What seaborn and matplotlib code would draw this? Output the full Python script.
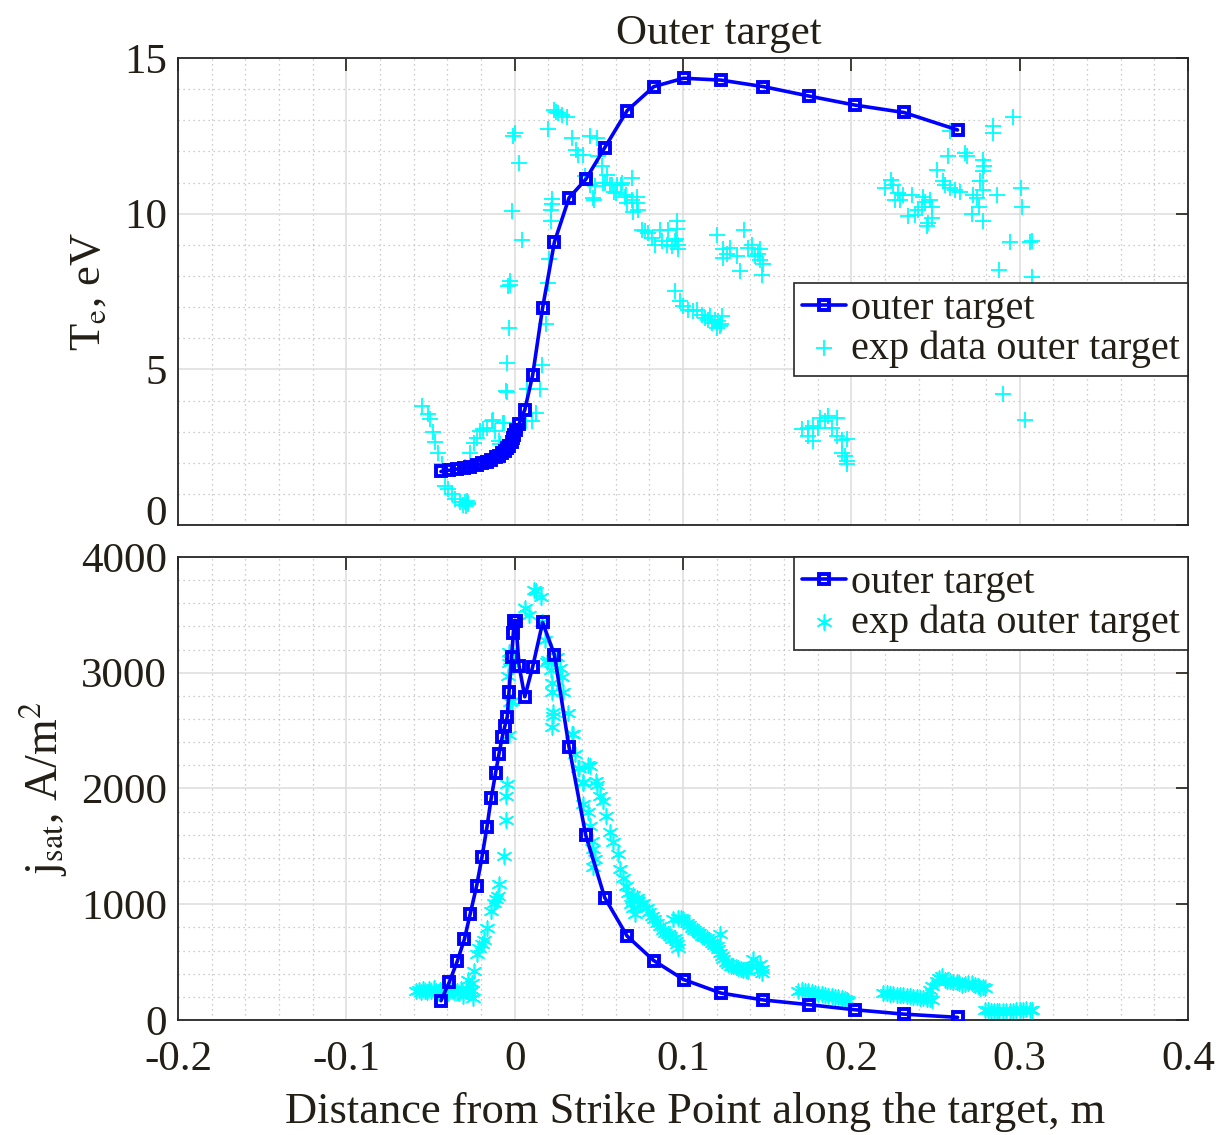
import numpy as np
import pandas as pd
import matplotlib
matplotlib.use("Agg")
import matplotlib.pyplot as plt
import seaborn as sns
from matplotlib.ticker import MultipleLocator

# ---------------- data ----------------
x_model = [-0.0438, -0.0388, -0.0341, -0.0299, -0.0264, -0.0226, -0.0194, -0.0165,
           -0.0139, -0.0113, -0.0093, -0.0074, -0.0058, -0.0044, -0.0034, -0.0018,
           -0.0008, -0.0002, 0.0006, 0.0026, 0.0060, 0.0107, 0.0166, 0.0236,
           0.0323, 0.0422, 0.0535, 0.0668, 0.0826, 0.1003, 0.1225, 0.1478,
           0.1746, 0.2019, 0.2312, 0.2631]
te_model = [1.72, 1.76, 1.80, 1.84, 1.88, 1.93, 1.98, 2.04,
            2.10, 2.17, 2.23, 2.30, 2.38, 2.46, 2.55, 2.68,
            2.80, 2.90, 3.05, 3.25, 3.70, 4.82, 6.98, 9.09,
            10.51, 11.10, 12.12, 13.31, 14.08, 14.35, 14.29, 14.08,
            13.78, 13.49, 13.25, 12.69]
j_model = [167, 329, 508, 696, 918, 1159, 1410, 1664,
           1922, 2136, 2301, 2445, 2540, 2618, 2830, 3139,
           3347, 3451, 3451, 3061, 2792, 3052, 3434, 3156,
           2358, 1598, 1057, 725, 514, 350, 233, 173,
           133, 89, 51, 23]

te_exp_x = [-0.0553, -0.0513, -0.0503, -0.0487, -0.0473, -0.0454, -0.0434, -0.0414, -0.0394, -0.0374,
            -0.0355, -0.0325, -0.0305, -0.0295, -0.0285, -0.0276, -0.0290, -0.0280,
            -0.0295, -0.0266, -0.0242, -0.0226, -0.0206, -0.0187, -0.0166, -0.0137, -0.0117, -0.0091,
            -0.0087, -0.0064, -0.0127, -0.0068,
            -0.0048, -0.0052, -0.0044, -0.0032, -0.0028, -0.0038, -0.0030, -0.0014, 0.0027, 0.0002,
            -0.0008, 0.0045,
            0.0071, 0.0067, 0.0101, 0.0127, 0.0150, 0.0160, 0.0186, 0.0200, 0.0206, 0.0216, 0.0216,
            0.0220, 0.0220, 0.0200,
            0.0233, 0.0259, 0.0279, 0.0309, 0.0245, 0.0339, 0.0447, 0.0487, 0.0364, 0.0378, 0.0404,
            0.0497, 0.0517, 0.0418, 0.0447, 0.0477, 0.0467, 0.0547, 0.0536, 0.0566, 0.0606, 0.0602,
            0.0636, 0.0661, 0.0665, 0.0471, 0.0526, 0.0576, 0.0590, 0.0630, 0.0655, 0.0699, 0.0695,
            0.0725, 0.0725, 0.0705, 0.0734,
            0.0754, 0.0774, 0.0794, 0.0814, 0.0834, 0.0863, 0.0913, 0.0873, 0.0903, 0.0933, 0.0952,
            0.0966, 0.0966, 0.0972, 0.0972, 0.0960,
            0.1200, 0.1362, 0.1239, 0.1279, 0.1259, 0.1236, 0.1319, 0.1338, 0.1388, 0.1408, 0.1428,
            0.1457, 0.1457, 0.1477, 0.1467, 0.1447,
            0.0952, 0.0982, 0.1002, 0.1031, 0.1061, 0.1081, 0.1111, 0.1131, 0.1150, 0.1170, 0.1190,
            0.1210, 0.1220, 0.1200, 0.1230, 0.1160, 0.1225,
            0.1705, 0.1744, 0.1774, 0.1804, 0.1744, 0.1774, 0.1814, 0.1843, 0.1863, 0.1913, 0.1883,
            0.1913, 0.1943, 0.1972, 0.1943, 0.1962, 0.1972, 0.1972,
            0.2586, 0.2840, 0.2843, 0.2962, 0.2576, 0.2675, 0.2689, 0.2784, 0.2788, 0.2780, 0.2511,
            0.2546, 0.2556, 0.2234, 0.2200, 0.2249, 0.2279, 0.2309, 0.2358, 0.2259, 0.2289, 0.2427,
            0.2437, 0.2467, 0.2477, 0.2418, 0.2398, 0.2378, 0.2338, 0.2477, 0.2457, 0.2447, 0.2586,
            0.2616, 0.2646, 0.2725, 0.2745, 0.2764, 0.2784, 0.2863, 0.2760, 0.2715, 0.2780, 0.3006,
            0.3016, 0.2942, 0.3071, 0.3059, 0.2879, 0.3071, 0.2899, 0.3031]
te_exp_y = [3.82, 3.56, 3.42, 2.99, 2.67, 2.31, 1.96, 1.26, 1.15, 0.99,
            0.83, 0.73, 0.66, 0.73, 0.78, 0.71, 0.62, 0.68,
            1.85, 2.33, 2.65, 2.81, 3.02, 3.08, 3.13, 3.34, 3.02, 2.70,
            2.60, 3.29, 3.36, 3.29,
            4.27, 4.30, 5.21, 6.34, 7.83, 7.67, 7.70, 10.10, 11.62, 12.59,
            12.48, 9.17,
            4.36, 3.34, 3.34, 3.61, 4.36, 5.14, 6.46, 7.78, 8.53, 9.78, 10.13,
            10.30, 10.48, 12.72,
            13.33, 13.23, 13.17, 13.12, 13.28, 12.43, 12.51, 12.43, 12.05, 11.89, 11.89,
            11.84, 11.52, 11.20, 10.93, 10.88, 10.50, 11.25, 10.98, 10.93, 10.93, 10.66,
            10.98, 10.61, 10.34, 10.45, 10.98, 10.93, 10.71, 10.93, 10.55, 11.14, 10.45,
            10.55, 10.34, 10.07, 10.13,
            9.49, 9.43, 9.38, 9.22, 9.01, 9.49, 9.49, 9.11, 9.01, 8.95, 9.11,
            9.75, 9.50, 9.01, 8.85, 9.20,
            9.33, 9.49, 8.85, 8.90, 8.69, 8.58, 8.63, 8.15, 8.90, 9.01, 8.63,
            8.85, 8.50, 8.37, 8.04, 8.70,
            7.51, 7.19, 7.03, 6.92, 6.87, 6.92, 6.76, 6.66, 6.60, 6.50, 6.60,
            6.55, 6.39, 6.34, 6.71, 6.71, 6.45,
            3.08, 3.13, 3.18, 3.13, 2.86, 2.70, 3.43, 3.34, 3.50, 3.43, 3.11,
            2.86, 2.72, 2.76, 2.33, 2.22, 2.06, 1.96,
            12.64, 12.80, 12.59, 13.12, 11.84, 11.95, 11.84, 11.73, 11.54, 11.36, 11.41,
            11.04, 10.93, 11.09, 10.82, 10.93, 10.66, 10.61, 10.61, 10.45, 10.45, 10.55,
            10.39, 10.45, 10.23, 10.23, 10.13, 9.97, 9.94, 9.86, 9.70, 9.59, 10.82,
            10.77, 10.71, 10.61, 10.50, 11.04, 10.77, 10.61, 10.21, 10.00, 9.75, 10.82,
            10.21, 9.08, 9.11, 9.08, 8.18, 7.97, 4.20, 3.38]

j_exp_x = [-0.0585, -0.0570, -0.0558, -0.0545, -0.0532, -0.0520, -0.0508, -0.0495, -0.0482, -0.0470,
           -0.0458, -0.0445, -0.0432, -0.0420, -0.0408, -0.0395, -0.0382, -0.0370, -0.0358, -0.0345,
           -0.0332, -0.0320, -0.0305, -0.0292, -0.0280, -0.0268, -0.0256, -0.0246,
           -0.0276, -0.0256, -0.0240, -0.0226, -0.0210, -0.0196, -0.0182, -0.0163, -0.0143, -0.0123,
           -0.0111, -0.0097, -0.0091, -0.0064, -0.0052, -0.0052, -0.0048, -0.0034, -0.0028, -0.0014,
           -0.0038, -0.0032, -0.0028, -0.0032,
           0.0061, 0.0087, 0.0115, 0.0127, 0.0154, 0.0164, 0.0180, 0.0200, 0.0194, 0.0250, 0.0214,
           0.0224, 0.0224, 0.0230, 0.0230, 0.0224, 0.0269, 0.0279, 0.0289, 0.0319, 0.0339, 0.0345,
           0.0358, 0.0378, 0.0384, 0.0404, 0.0437, 0.0447, 0.0404, 0.0483, 0.0491, 0.0507, 0.0523,
           0.0408, 0.0437, 0.0542, 0.0447, 0.0566, 0.0457, 0.0586, 0.0467, 0.0477, 0.0616, 0.0467,
           0.0626, 0.0645, 0.0661, 0.0675, 0.0695, 0.0725, 0.0705, 0.0715, 0.0744, 0.0764, 0.0784,
           0.0814, 0.0844, 0.0863, 0.0893, 0.0923, 0.0952, 0.0962, 0.0972, 0.0942, 0.0972, 0.1002,
           0.1022, 0.1052, 0.1081, 0.1111, 0.1141, 0.1170, 0.1200, 0.1220, 0.1220, 0.1240, 0.1269,
           0.1299, 0.1328, 0.1358, 0.1388, 0.1418, 0.1438, 0.1467, 0.1457,
           0.0690, 0.0700, 0.0735, 0.0800, 0.0830, 0.0880, 0.0910, 0.0935, 0.0957, 0.0987, 0.1037,
           0.1067, 0.1096, 0.1126, 0.1155, 0.1185, 0.1210, 0.1230, 0.1255, 0.1285, 0.1313, 0.1343,
           0.1373, 0.1403, 0.1450, 0.1472,
           0.1686, 0.1705, 0.1725, 0.1745, 0.1764, 0.1784, 0.1804, 0.1823, 0.1843, 0.1863, 0.1883,
           0.1903, 0.1923, 0.1943, 0.1962, 0.1975, 0.1982,
           0.2190, 0.2210, 0.2230, 0.2250, 0.2269, 0.2289, 0.2309, 0.2328, 0.2348, 0.2368, 0.2388,
           0.2408, 0.2427, 0.2447, 0.2467, 0.2477, 0.2467, 0.2480,
           0.2507, 0.2520, 0.2537, 0.2555, 0.2570, 0.2586, 0.2605, 0.2625, 0.2640, 0.2656, 0.2675,
           0.2695, 0.2715, 0.2735, 0.2750, 0.2764, 0.2780, 0.2794,
           0.2794, 0.2810, 0.2830, 0.2850, 0.2863, 0.2880, 0.2900, 0.2920, 0.2942, 0.2960, 0.2980,
           0.3000, 0.3021, 0.3040, 0.3060, 0.3071]
j_exp_y = [250, 262, 245, 270, 255, 240, 265, 250, 275, 248,
           238, 260, 252, 270, 245, 232, 258, 262, 240, 255,
           230, 268, 205, 250, 272, 240, 260, 190,
           349, 320, 421, 566, 624, 653, 688, 797, 942, 1014,
           1043, 1072, 1179, 1419, 1729, 1931, 2035, 2460, 2749, 2757,
           2971, 3081, 3110, 3182,
           3558, 3500, 3717, 3703, 3654, 3442, 3284, 3110, 3096, 3139, 3023,
           2908, 2835, 2662, 2630, 2532, 3038, 2965, 2835, 2648, 2468, 2474,
           2301, 2180, 2180, 2055, 2200, 2191, 2046, 2063, 2026, 1939, 1890,
           1867, 1794, 1766, 1679, 1621, 1549, 1534, 1477, 1390, 1434, 1318,
           1304, 1231, 1159, 1101, 1043, 1057, 971, 913, 1000, 1014, 971,
           899, 840, 812, 754, 725, 710, 653, 624, 870, 884, 870,
           840, 797, 768, 725, 710, 667, 638, 740, 580, 523, 480,
           465, 450, 436, 421, 523, 465, 407, 480,
           1000, 1080, 1030, 930, 870, 780, 740, 700, 680, 880, 820,
           780, 750, 720, 690, 650, 610, 550, 500, 470, 455, 440,
           430, 470, 430, 440,
           248, 262, 255, 250, 240, 236, 228, 222, 215, 210, 205,
           200, 198, 190, 185, 175, 161,
           233, 230, 226, 222, 219, 215, 212, 208, 205, 200, 197,
           193, 190, 185, 178, 176, 263, 290,
           335, 360, 378, 350, 340, 335, 330, 325, 318, 306, 315,
           318, 320, 300, 290, 277, 282, 277,
           89, 85, 80, 78, 75, 80, 78, 76, 75, 82, 85,
           87, 89, 92, 90, 89]

x_ticks = [-0.2, -0.1, 0, 0.1, 0.2, 0.3, 0.4]
x_tick_labels = ["-0.2", "-0.1", "0", "0.1", "0.2", "0.3", "0.4"]
te_ticks = [0, 5, 10, 15]
te_tick_labels = ["0", "5", "10", "15"]
j_ticks = [0, 1000, 2000, 3000, 4000]
j_tick_labels = ["0", "1000", "2000", "3000", "4000"]

# ---------------- style ----------------
sns.set_theme(style="white")
TXT = "#231f16"
plt.rcParams["font.family"] = ["Liberation Serif", "DejaVu Serif"]
plt.rcParams["mathtext.fontset"] = "stix"
plt.rcParams["axes.unicode_minus"] = False
plt.rcParams["text.color"] = TXT
plt.rcParams["axes.labelcolor"] = TXT
plt.rcParams["xtick.color"] = TXT
plt.rcParams["ytick.color"] = TXT

BLUE = "#0000ff"
CYAN = "#00ffff"
FS_TICK = 31
FS_LAB = 32
FS_LEG = 29

fig = plt.figure(figsize=(12.26, 11.35), dpi=100)
ax1 = fig.add_axes([0.1452, 0.5374, 0.8238, 0.4115])
ax2 = fig.add_axes([0.1452, 0.1013, 0.8238, 0.408])

df_model = pd.DataFrame({"x": x_model, "te": te_model, "j": j_model})
df_te = pd.DataFrame({"x": te_exp_x, "te": te_exp_y})
df_j = pd.DataFrame({"x": j_exp_x, "j": j_exp_y})

line_kw = dict(color=BLUE, linewidth=2.6, marker="s", markersize=7,
               markerfacecolor="none", markeredgecolor=BLUE, markeredgewidth=2.8,
               estimator=None, sort=False)

sns.lineplot(data=df_model, x="x", y="te", ax=ax1, label="outer target", zorder=3, **line_kw)
sns.scatterplot(data=df_te, x="x", y="te", ax=ax1, marker="+", color=CYAN, s=120,
                linewidth=1.3, label="exp data outer target", zorder=2)

sns.lineplot(data=df_model, x="x", y="j", ax=ax2, label="outer target", zorder=3, **line_kw)
sns.scatterplot(data=df_j, x="x", y="j", ax=ax2, marker=(6, 2, 0), color=CYAN, s=110,
                linewidth=1.2, label="exp data outer target", zorder=2)

for ax, yt, ytl, ymin, ymax, ystep in [(ax1, te_ticks, te_tick_labels, 0, 15, 1),
                                        (ax2, j_ticks, j_tick_labels, 0, 4000, 200)]:
    ax.set_xlim(-0.2, 0.4)
    ax.set_ylim(ymin, ymax)
    ax.set_xticks(x_ticks)
    ax.set_yticks(yt)
    ax.set_yticklabels(ytl)
    ax.xaxis.set_minor_locator(MultipleLocator(0.02))
    ax.yaxis.set_minor_locator(MultipleLocator(ystep))
    ax.grid(which="major", color="#dddddd", linewidth=1.1, linestyle="-")
    ax.grid(which="minor", color="#bdbdbd", linewidth=0.9, linestyle=(0, (1, 3)))
    ax.set_axisbelow(True)
    ax.tick_params(which="major", direction="in", length=9, width=1.2,
                   top=True, right=True, labelsize=FS_TICK)
    ax.tick_params(axis="y", which="major", pad=8)
    ax.tick_params(axis="x", which="major", pad=15)
    ax.tick_params(which="minor", length=0)
    for s in ax.spines.values():
        s.set_color("#262626")
        s.set_linewidth(1.3)
    ax.set_xlabel("")
    ax.set_ylabel("")

ax1.set_xticklabels([])
ax2.set_xticklabels(x_tick_labels)
# lift the lowest labels a little, as in the original
ax1.yaxis.get_major_ticks()[0].label1.set_verticalalignment("baseline")
ax2.yaxis.get_major_ticks()[0].label1.set_verticalalignment("center_baseline")

ax1.set_title("Outer target", fontsize=FS_LAB - 1, color=TXT, pad=10, x=0.535)
ax1.set_ylabel(r"T$_\mathrm{e}$, eV", fontsize=FS_LAB, labelpad=11)
ax2.set_ylabel(r"j$_\mathrm{sat}$, A/m$^2$", fontsize=FS_LAB + 1, labelpad=8)
ax2.set_xlabel("Distance from Strike Point along the target, m", fontsize=FS_LAB, labelpad=4)
ax2.xaxis.set_label_coords(0.5118, -0.155)

leg_kw = dict(fontsize=FS_LEG, frameon=True, fancybox=False, framealpha=1,
              edgecolor="#262626", borderaxespad=0, handlelength=1.1,
              handletextpad=0.12, borderpad=0.2, labelspacing=0.05, markerscale=1.0)
l1 = ax1.legend(loc="upper right", bbox_to_anchor=(1.0, 0.518), **leg_kw)
l2 = ax2.legend(loc="upper right", bbox_to_anchor=(1.0, 1.0), **leg_kw)
for l in (l1, l2):
    l.get_frame().set_linewidth(1.2)
    for t in l.get_texts():
        t.set_color(TXT)

fig.savefig("out.png", dpi=100)
